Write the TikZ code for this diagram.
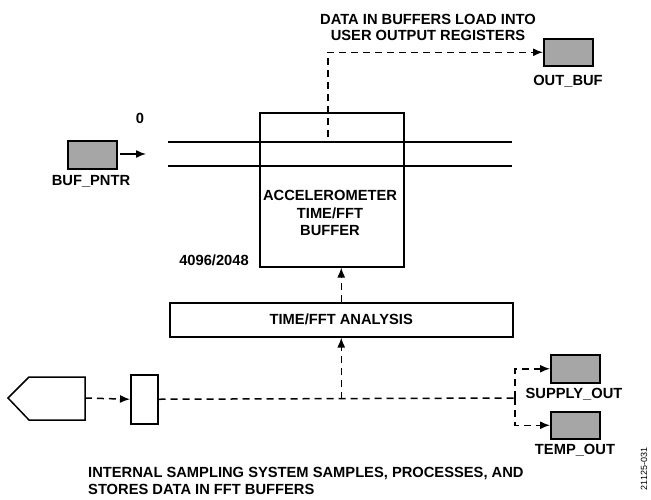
\documentclass[tikz,border=0pt]{standalone}
\usepackage{fontspec}
\setmainfont{Liberation Sans}
\usetikzlibrary{arrows.meta}
\definecolor{regfill}{RGB}{166,166,166}

\begin{document}
\begin{tikzpicture}[x=1pt,y=-1pt,
  font=\fontsize{14.7}{16}\selectfont\bfseries,
  box/.style={draw, line width=1.5pt, inner sep=0pt, anchor=north west},
  reg/.style={box, fill=regfill, minimum width=49pt, minimum height=28pt},
  lbl/.style={inner sep=0pt, align=center},
  rule/.style={line width=1.5pt},
  flow/.style={line width=1.5pt, dash pattern=on 7pt off 5pt},
  tip/.style={-{Latex[length=10pt,width=8pt]}}
]
\useasboundingbox (0,0) rectangle (651,499);

% output register fed from the buffer
\node[reg, minimum height=27pt] (outbuf) at (543,38) {};
\node[lbl] (outbufl) at (568,81) {OUT\_BUF};
\node[lbl] (loadtxt) at (428,27)
  {DATA IN BUFFERS LOAD INTO\\USER OUTPUT REGISTERS};

% buffer pointer register
\node[reg] (pntr) at (67,140) {};
\node[lbl] (pntrl) at (91,181) {BUF\_PNTR};
\node[lbl] (zero) at (140,118) {0};
\coordinate (pa) at (120,154);
\coordinate (pb) at (146,154);
\draw[rule, tip] (pa) -- (pb);

% accelerometer time/FFT buffer
\node[box, minimum width=144pt, minimum height=154pt] (buf) at (259,112) {};
\node[lbl, font=\fontsize{14.7}{17.5}\selectfont\bfseries] (buftxt) at (330,213)
  {ACCELEROMETER\\TIME/FFT\\BUFFER};
\node[lbl] (depth) at (214,260) {4096/2048};
\coordinate (l1a) at (168,142);
\coordinate (l1b) at (512,142);
\coordinate (l2a) at (168,166);
\coordinate (l2b) at (512,166);
\draw[rule] (l1a) -- (l1b);
\draw[rule] (l2a) -- (l2b);

% buffer contents to the output register
\coordinate (tap) at (328,137);
\draw[flow, tip] (tap) |- (outbuf.west);

% analysis stage
\node[box, minimum width=343pt, minimum height=34pt] (ana) at (169,302) {};
\node[lbl] (anatxt) at (ana.center) {TIME/FFT ANALYSIS};
\draw[flow, tip] (ana.north) -- (ana.north |- buf.south);

% sampling front end
\draw[rule] (29,377) -- (85,377) -- (85,420) -- (29,420) -- (8,398) -- cycle;
\coordinate (src) at (85,398);
\node[box, minimum width=27pt, minimum height=49pt] (adc) at (130,374) {};
\draw[flow, tip] (src) -- (adc.west);
\coordinate (split) at (515,398);
\draw[flow] (adc.east) -- (split);
\draw[flow, tip] (ana.south |- adc.east) -- (ana.south);

% supply and temperature registers
\node[reg] (supply) at (550,354) {};
\node[lbl] (supplyl) at (574,394) {SUPPLY\_OUT};
\node[reg, minimum height=27pt] (temp) at (550,411) {};
\node[lbl] (templ) at (575,450) {TEMP\_OUT};
\draw[flow, tip] (split) |- (supply.west);
\draw[flow, tip] (split) |- (temp.west);

% caption lines
\node[lbl, anchor=base west] (cap1) at (88,477) {INTERNAL SAMPLING SYSTEM SAMPLES, PROCESSES, AND};
\node[lbl, anchor=base west] (cap2) at (88,494) {STORES DATA IN FFT BUFFERS};

% figure number
\node[lbl, rotate=90, font=\fontsize{9}{10}\selectfont] (fig) at (644,469) {21125-031};
\end{tikzpicture}
\end{document}
